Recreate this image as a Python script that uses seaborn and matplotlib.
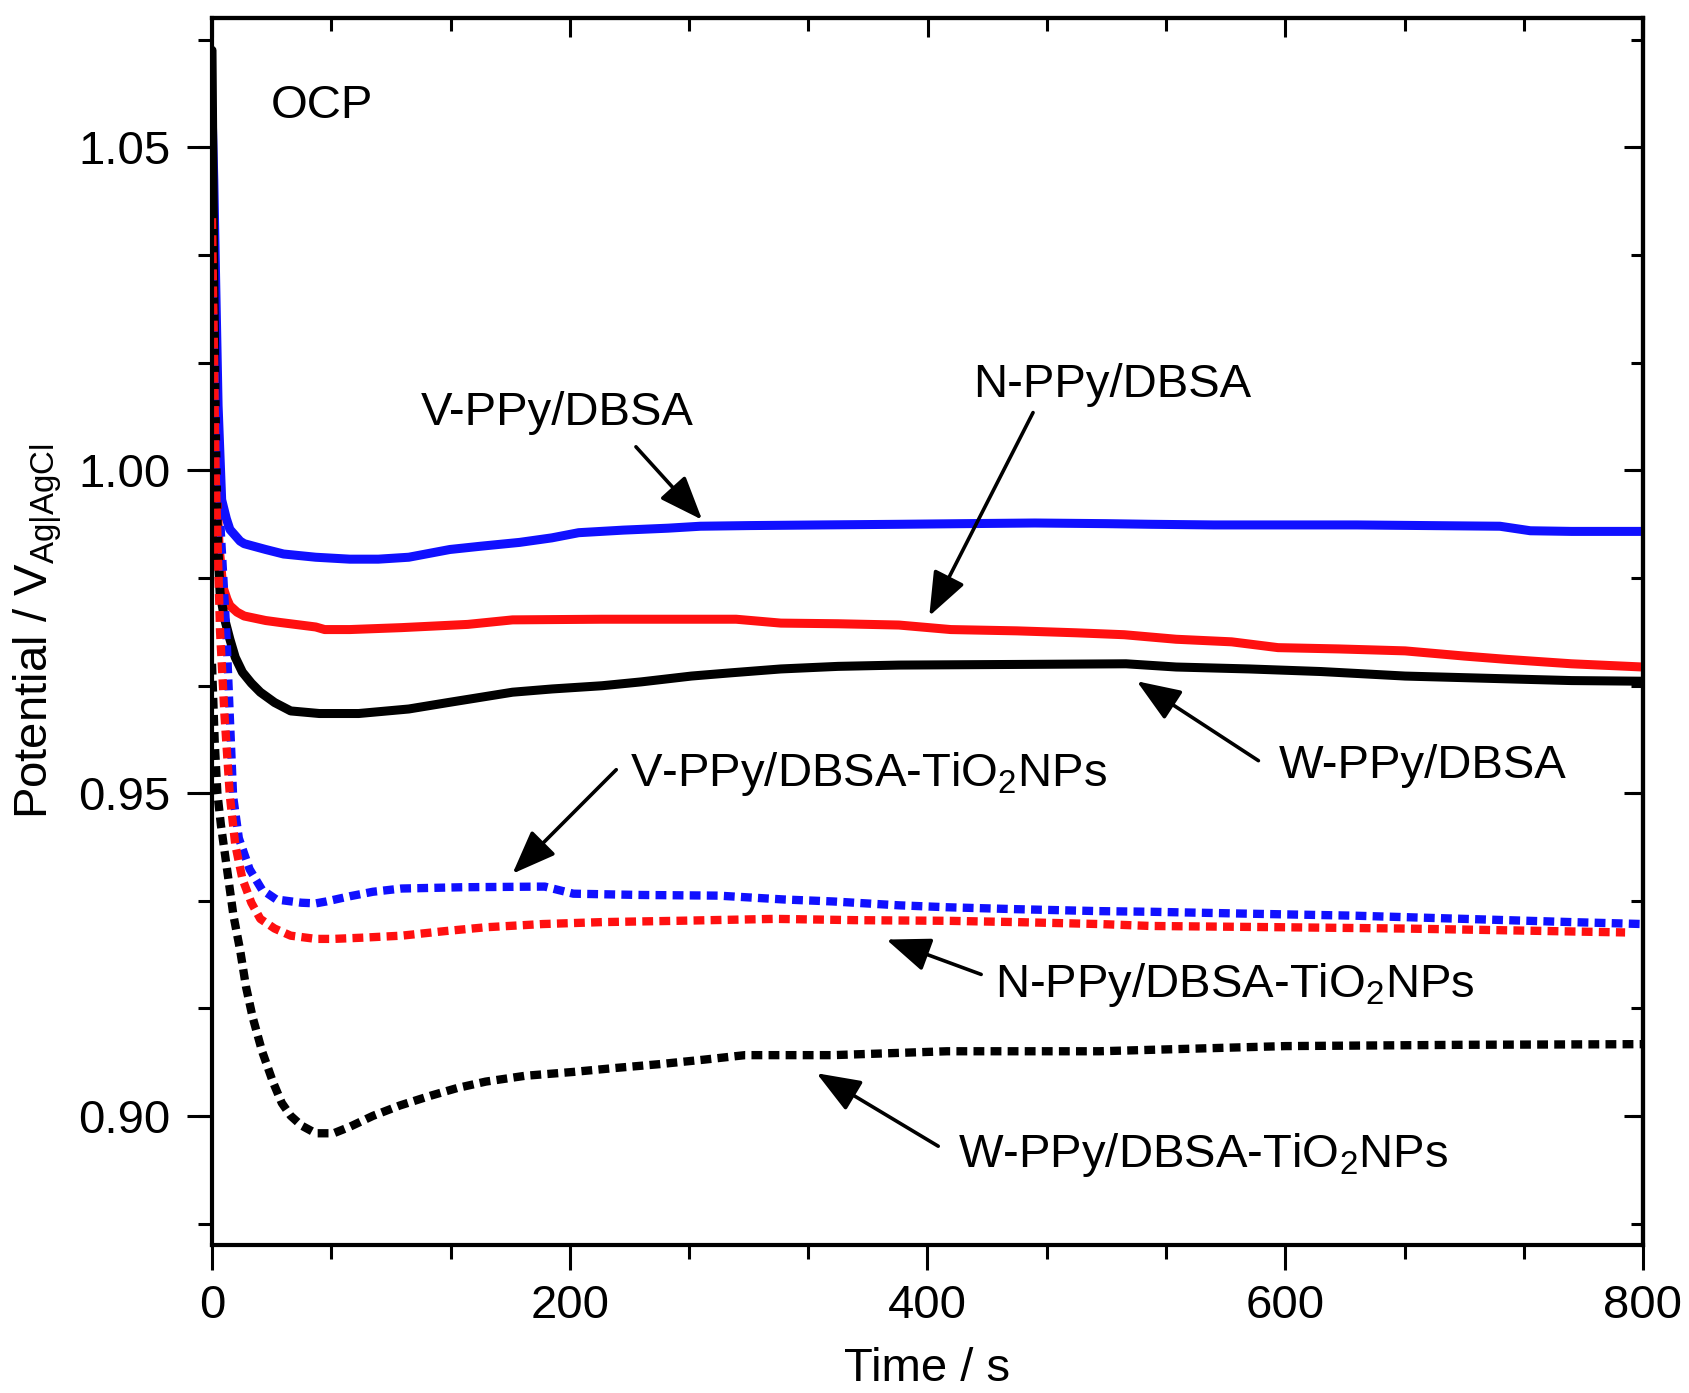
import numpy as np
import pandas as pd
import matplotlib
matplotlib.use("Agg")
import matplotlib.pyplot as plt
import seaborn as sns

# ---------------- data ----------------
t_v = [0, 1, 2, 3.4, 5.4, 8, 10, 15.7, 18, 30, 40, 58, 77, 93, 110, 133, 150, 172, 190, 205,
       230, 255, 273, 300, 340, 384, 420, 460, 500, 525, 560, 600, 640, 680, 720, 737, 760, 800]
p_v = [1.056, 1.045, 1.030, 1.010, 0.9954, 0.9925, 0.9908, 0.9890, 0.9886, 0.9877, 0.9870, 0.9865,
       0.9862, 0.9862, 0.9865, 0.9877, 0.9882, 0.9888, 0.9895, 0.9903, 0.9907, 0.9910, 0.9913, 0.9914,
       0.9915, 0.9916, 0.9917, 0.9918, 0.9917, 0.9916, 0.9915, 0.9915, 0.9915, 0.9914, 0.9913, 0.9906,
       0.9905, 0.9905]

t_n = [0, 1, 2, 4, 6, 8.4, 10, 14, 18, 30, 38, 58, 63, 77, 106, 143, 168, 218, 260, 293, 318, 350,
       384, 413, 450, 483, 510, 539, 570, 596, 630, 667, 700, 723, 760, 800]
p_n = [1.040, 1.020, 1.000, 0.988, 0.982, 0.980, 0.979, 0.978, 0.9774, 0.9767, 0.9764, 0.9757, 0.9753,
       0.9753, 0.9756, 0.9761, 0.9768, 0.9769, 0.9769, 0.9769, 0.9763, 0.9762, 0.9760, 0.9753, 0.9751,
       0.9748, 0.9745, 0.9738, 0.9734, 0.9725, 0.9723, 0.9720, 0.9712, 0.9707, 0.9700, 0.9695]

t_w = [0, 1, 2, 3, 4.5, 7, 10, 13, 17, 22, 27, 35, 44, 60, 82, 110, 132, 150, 168, 190, 218, 240,
       268, 290, 318, 350, 384, 450, 511, 539, 580, 620, 667, 720, 760, 800]
p_w = [1.065, 1.030, 1.005, 0.990, 0.981, 0.977, 0.9738, 0.971, 0.9687, 0.967, 0.9656, 0.964, 0.9627,
       0.9623, 0.9623, 0.9630, 0.9640, 0.9648, 0.9656, 0.9661, 0.9666, 0.9672, 0.9681, 0.9686, 0.9692,
       0.9696, 0.9698, 0.9699, 0.9700, 0.9695, 0.9692, 0.9688, 0.9681, 0.9677, 0.9674, 0.9673]

t_vt = [0, 2, 5, 8, 11.8, 15, 21, 28, 36, 50, 58, 64, 77, 90, 106, 140, 186, 202, 240, 283, 320,
        347, 384, 411, 450, 496, 525, 580, 638, 700, 760, 800]
p_vt = [1.031, 1.010, 0.990, 0.975, 0.9495, 0.943, 0.9382, 0.935, 0.9335, 0.9330, 0.9329, 0.9332,
        0.9340, 0.9347, 0.9352, 0.9354, 0.9355, 0.9344, 0.9342, 0.9341, 0.9335, 0.9332, 0.9326, 0.9323,
        0.9320, 0.9317, 0.9316, 0.9313, 0.9310, 0.9305, 0.9300, 0.9297]

t_nt = [0, 2, 4.5, 7, 10, 13, 17, 22, 27, 35, 44, 58, 68, 85, 106, 130, 153, 185, 218, 260, 315,
        360, 411, 450, 496, 525, 600, 667, 730, 790]
p_nt = [1.039, 1.000, 0.975, 0.962, 0.9495, 0.942, 0.9367, 0.9330, 0.9305, 0.9290, 0.9279, 0.9274,
        0.9274, 0.9276, 0.9279, 0.9286, 0.9292, 0.9297, 0.9300, 0.9302, 0.9305, 0.9303, 0.9302, 0.9300,
        0.9297, 0.9294, 0.9292, 0.9290, 0.9287, 0.9284]

t_wt = [0, 1.5, 3, 5, 8, 12, 15.7, 19, 22.7, 28, 34, 39, 44, 50, 58, 68, 77, 90, 105, 122, 137, 153,
        175, 202, 225, 250, 275, 298, 347, 411, 496, 600, 700, 800]
p_wt = [0.970, 0.958, 0.950, 0.945, 0.939, 0.931, 0.9257, 0.920, 0.9153, 0.910, 0.9053, 0.902, 0.900,
        0.8985, 0.8973, 0.8973, 0.8983, 0.900, 0.9016, 0.9031, 0.9043, 0.9053, 0.9062, 0.9068, 0.9074,
        0.908, 0.9087, 0.9094, 0.9094, 0.910, 0.910, 0.9108, 0.911, 0.9111]

series = [
    ("V-PPy/DBSA", t_v, p_v, "#1010ff", "-"),
    ("N-PPy/DBSA", t_n, p_n, "#ff1010", "-"),
    ("W-PPy/DBSA", t_w, p_w, "black", "-"),
    ("V-PPy/DBSA-TiO2NPs", t_vt, p_vt, "#1010ff", "--"),
    ("N-PPy/DBSA-TiO2NPs", t_nt, p_nt, "#ff1010", "--"),
    ("W-PPy/DBSA-TiO2NPs", t_wt, p_wt, "black", "--"),
]

x_ticks = [0, 200, 400, 600, 800]
y_ticks = [0.90, 0.95, 1.00, 1.05]
y_tick_labels = ["0.90", "0.95", "1.00", "1.05"]

# ---------------- style ----------------
sns.set_theme(style="ticks")
plt.rcParams["font.family"] = ["Liberation Sans", "DejaVu Sans"]
plt.rcParams["mathtext.default"] = "regular"
plt.rcParams["mathtext.fontset"] = "custom"
plt.rcParams["mathtext.rm"] = "Liberation Sans"
plt.rcParams["mathtext.it"] = "Liberation Sans"
plt.rcParams["text.color"] = "black"
plt.rcParams["axes.labelcolor"] = "black"
plt.rcParams["xtick.color"] = "black"
plt.rcParams["ytick.color"] = "black"

FS = 34
fig = plt.figure(figsize=(16.9, 13.93), dpi=100)
ax = fig.add_axes([212 / 1690, 1 - 1245 / 1393, (1643 - 212) / 1690, (1245 - 18) / 1393])

for name, t, p, c, ls in series:
    df = pd.DataFrame({"t": t, "p": p})
    if ls == "-":
        sns.lineplot(data=df, x="t", y="p", ax=ax, color=c, lw=6.5, sort=False,
                     estimator=None, solid_joinstyle="round")
    else:
        sns.lineplot(data=df, x="t", y="p", ax=ax, color=c, lw=6.0, sort=False,
                     estimator=None, dashes=False, linestyle=(0, (1.3, 0.75)))

ax.set_xlim(0, 800)
ax.set_ylim(0.88, 1.07)
ax.set_xticks(x_ticks)
ax.set_xticklabels([str(v) for v in x_ticks])
ax.set_yticks(y_ticks)
ax.set_yticklabels(y_tick_labels)
ax.set_xticks(np.arange(0, 801, 200 / 3), minor=True)
ax.set_yticks(np.arange(0.8833, 1.0701, 0.05 / 3), minor=True)

for s in ax.spines.values():
    s.set_linewidth(3)
    s.set_color("black")
    s.set_visible(True)

ax.tick_params(which="major", direction="out", length=18, width=2.2, labelsize=FS,
               colors="black")
ax.tick_params(axis="y", which="major", pad=12)
ax.tick_params(axis="x", which="major", pad=10)
ax.tick_params(which="minor", direction="out", length=10, width=2.2, colors="black")

secx = ax.secondary_xaxis("top")
secx.set_xticks(x_ticks)
secx.set_xticks(np.arange(0, 801, 200 / 3), minor=True)
secx.tick_params(which="major", direction="in", length=14, width=2.2, labeltop=False, colors="black")
secx.tick_params(which="minor", direction="in", length=9, width=2.2, colors="black")
secx.spines["top"].set_linewidth(3)

secy = ax.secondary_yaxis("right")
secy.set_yticks(y_ticks)
secy.set_yticks(np.arange(0.8833, 1.0701, 0.05 / 3), minor=True)
secy.tick_params(which="major", direction="in", length=14, width=2.2, labelright=False, colors="black")
secy.tick_params(which="minor", direction="in", length=9, width=2.2, colors="black")
secy.spines["right"].set_linewidth(3)

ax.set_xlabel("Time / s", fontsize=FS, labelpad=14, color="black")
ax.set_ylabel("Potential / V$_{Ag|AgCl}$", fontsize=FS, labelpad=10, color="black")

ax.text(33, 1.0564, "OCP", fontsize=FS, ha="left", va="center", color="black")

arrow = dict(arrowstyle="-|>,head_length=0.9,head_width=0.35", color="black", lw=2.6,
             mutation_scale=30, shrinkA=0, shrinkB=0)

def note(text, xy_text, tail, tip, ha="center"):
    ax.text(xy_text[0], xy_text[1], text, fontsize=FS, ha=ha, va="center", color="black")
    ax.annotate("", xy=tip, xytext=tail, arrowprops=arrow)

note("V-PPy/DBSA", (193, 1.0089), (237, 1.0036), (274, 0.9923))
note("N-PPy/DBSA", (503, 1.0132), (459, 1.0089), (401, 0.9774))
note("W-PPy/DBSA", (677, 0.9541), (585, 0.9550), (517, 0.9673))
note("V-PPy/DBSA-TiO$_2$NPs", (367, 0.9530), (226, 0.9536), (168, 0.9375))
note("N-PPy/DBSA-TiO$_2$NPs", (572, 0.9203), (430, 0.9219), (377, 0.9273))
note("W-PPy/DBSA-TiO$_2$NPs", (554, 0.8940), (406, 0.8953), (338, 0.9066))

fig.savefig("out.png", dpi=100)
